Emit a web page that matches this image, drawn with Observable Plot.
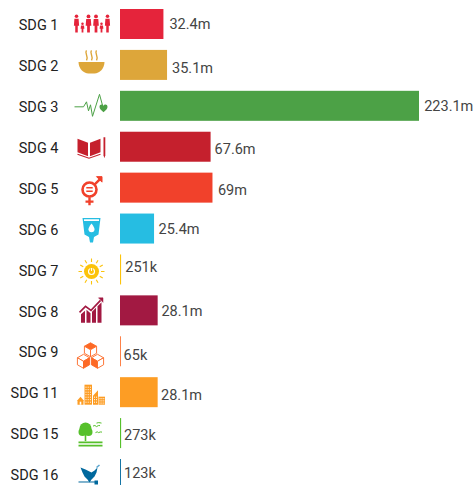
<!DOCTYPE html>
<html>
<head>
<meta charset="utf-8">
<script src="https://cdn.jsdelivr.net/npm/d3@7"></script>
<script src="https://cdn.jsdelivr.net/npm/@observablehq/plot@0.6"></script>
<style>
html,body{margin:0;padding:0;background:#fff;overflow:hidden}
svg{display:block}
</style>
</head>
<body>
<div id="chart"></div>
<script>
const categories = ["SDG 1","SDG 2","SDG 3","SDG 4","SDG 5","SDG 6","SDG 7","SDG 8","SDG 9","SDG 11","SDG 15","SDG 16"];
const millions = [32.4,35.1,223.1,67.6,69,25.4,0.251,28.1,0.065,28.1,0.273,0.123];
const valueLabels = ["32.4m","35.1m","223.1m","67.6m","69m","25.4m","251k","28.1m","65k","28.1m","273k","123k"];
const colors = ["#E5243B","#DDA63A","#4CA146","#C5202D","#F1412B","#26BDE2","#FCC30B","#A21942","#FD6925","#FD9D24","#56C02B","#00689D"];
// label nudges seen in the reference (pixels)
const labelDx = [5.5,4.5,4.7,3.5,5,4,4.4,3.3,3,2.9,3.2,3.4];
const labelDy = [0,3.4,0,2.5,2.5,0.5,-2.5,0.5,3.4,3,2,-1];

// pictograms, drawn in a 40x40 cell
const person = (x, top, w, c) => {
  const r = w * 0.42, b = 28;
  return `<circle cx="${x}" cy="${top + r}" r="${r}" fill="${c}"/><path d="M${x - w/2} ${top + 2*r + .6}H${x + w/2}L${x + w*.62} ${top + (b-top)*.62}H${x + w*.3}V${b}H${x - w*.3}V${top + (b-top)*.62}H${x - w*.62}Z" fill="${c}"/>`;
};
const rays = (cx, cy, r1, r2, n, c, sw) => d3.range(n).map(i => {
  const a = i * 2 * Math.PI / n;
  return `<line x1="${cx + r1*Math.cos(a)}" y1="${cy + r1*Math.sin(a)}" x2="${cx + r2*Math.cos(a)}" y2="${cy + r2*Math.sin(a)}" stroke="${c}" stroke-width="${sw}"/>`;
}).join("");
const cube = (cx, cy, s, c, filled) => {
  const h = s * 0.5;
  return `<path d="M${cx} ${cy - s}L${cx + s*.87} ${cy - h}L${cx} ${cy}L${cx - s*.87} ${cy - h}Z" fill="${filled === "top" ? c : "#fff"}" stroke="${c}" stroke-width=".9"/>` +
    `<path d="M${cx - s*.87} ${cy - h}L${cx} ${cy}V${cy + s}L${cx - s*.87} ${cy + h}Z" fill="${filled === "left" ? c : "#fff"}" stroke="${c}" stroke-width=".9"/>` +
    `<path d="M${cx + s*.87} ${cy - h}L${cx} ${cy}V${cy + s}L${cx + s*.87} ${cy + h}Z" fill="${filled === "right" ? c : "#fff"}" stroke="${c}" stroke-width=".9"/>`;
};
const windows = (x0, y0, nx, ny, dx, dy) => d3.range(nx).flatMap(i => d3.range(ny).map(j =>
  `<rect x="${x0 + i*dx}" y="${y0 + j*dy}" width="1" height="1" fill="#fff"/>`)).join("");
const iconBodies = [
  // SDG 1
  person(6,10,4.2,"#E5243B") + person(12,18,3,"#E5243B") + person(18,10,4.6,"#E5243B") + person(25.5,10,4.6,"#E5243B") + person(31,18,3,"#E5243B") + person(37,10,4.2,"#E5243B"),
  // SDG 2
  `<path d="M8 16.5H34C34 23 29 28 24 28H18C13 28 8 23 8 16.5Z" fill="#DDA63A"/>` +
  [16,21,26].map(x => `<path d="M${x} 5C${x-2.4} 8 ${x+2.4} 10 ${x} 15" fill="none" stroke="#DDA63A" stroke-width="1.4"/>`).join(""),
  // SDG 3
  `<path d="M4 20.5H13L16 15.5L18 24.5L20 18.5L22 30L29 8L32 19" fill="none" stroke="#4CA146" stroke-width="1"/>` +
  `<path d="M33 26C30 23.5 29 22 29 20.5C29 18 32 17.5 33 19.5C34 17.5 37 18 37 20.5C37 22 36 23.5 33 26Z" fill="#4CA146"/>`,
  // SDG 4
  `<path d="M7 11.5L17.5 15.5V29L7 25Z" fill="#C5202D"/><path d="M30 11.5L19.5 15.5V29L30 25Z" fill="#C5202D"/>` +
  `<path d="M7 27L18.5 31L30 27" fill="none" stroke="#C5202D" stroke-width="1"/><path d="M33 10H34.8V28L33.9 31L33 28Z" fill="#C5202D"/>`,
  // SDG 5
  `<circle cx="19" cy="21.4" r="7" fill="none" stroke="#F1412B" stroke-width="2.6"/><path d="M15.8 19.5H22.2M15.8 23H22.2" stroke="#F1412B" stroke-width="1.5"/>` +
  `<path d="M19 29V37M15 33.5H23M24 16.5L30 10.5" stroke="#F1412B" stroke-width="2.4" fill="none"/><path d="M26 8.5H31.5V14Z" fill="#F1412B" stroke="#F1412B"/>`,
  // SDG 6
  `<path d="M12 9H30L28 25.5L23.5 28L22.5 33.5H19.5L18.5 28L14 25.5Z" fill="#26BDE2"/><path d="M13.5 10.2H28.5V12H13.5Z" fill="#fff"/>` +
  `<path d="M21 14.5C18.6 17.8 18 19 18 20.3A3 3 0 0 0 24 20.3C24 19 23.4 17.8 21 14.5Z" fill="#fff"/>`,
  // SDG 7
  `<circle cx="21" cy="21.6" r="7.5" fill="#FCC30B"/>` + rays(21,21.6,9.5,13,12,"#FCC30B",1.1) +
  `<circle cx="21" cy="21.6" r="3" fill="none" stroke="#fff" stroke-width="1.1"/><path d="M21 17.5V21" stroke="#FCC30B" stroke-width="2.4"/><path d="M21 18V21" stroke="#fff" stroke-width="1"/>`,
  // SDG 8
  `<path d="M10.5 32V23.5L14.5 20V32ZM16 32V19L20 22.5V32ZM21.5 32V21L25.5 17V32ZM27 32V15.5L31 11.5V32Z" fill="#A21942"/>` +
  `<path d="M9 21.5L15 15.5L20.5 19.5L30 9.5" fill="none" stroke="#A21942" stroke-width="1.6"/><path d="M28 7H32.5V11.5Z" fill="#A21942" stroke="#A21942" stroke-width=".5"/>`,
  // SDG 9
  cube(20,18,7,"#FD6925","top") + cube(13,29.5,7,"#FD6925","right") + cube(27,29.5,7,"#FD6925","left"),
  // SDG 11
  `<path d="M7 32V27.5L10 24L13 27.5V32Z" fill="#FD9D24"/><rect x="14" y="12" width="7.5" height="20" fill="#FD9D24"/>` +
  `<path d="M22.5 32V23L27.5 17.5V32Z" fill="#FD9D24"/><rect x="28" y="24" width="6.5" height="8" fill="#FD9D24"/>` +
  windows(15,14,3,7,2.2,2.5) + windows(23.5,24,2,3,2,2.5) + windows(29,25.5,3,3,1.9,2.2) + `<rect x="9.2" y="29" width="1.6" height="3" fill="#fff"/>`,
  // SDG 15
  `<circle cx="15" cy="15" r="6" fill="#56C02B"/><circle cx="12" cy="18.5" r="4" fill="#56C02B"/><circle cx="18" cy="18.5" r="4" fill="#56C02B"/><rect x="14.2" y="20" width="1.6" height="7.5" fill="#56C02B"/>` +
  `<path d="M8 28H32V29.6H8ZM8 31.2H32V32.8H8Z" fill="#56C02B"/>` +
  `<path d="M22.5 12.5Q24.5 11 26 13Q28 11.5 29.5 12M26 9.5Q28 8.5 31 9.5M25 19Q27 17.5 28 19Q30 18 31.5 18.5" fill="none" stroke="#56C02B" stroke-width="1"/>`,
  // SDG 16
  `<path d="M10 13L15 15L19 17L21 18L24 16L27 13L26 18L24 22L21 25L19 28L17 25L14 22L12 18Z" fill="#00689D"/>` +
  `<path d="M26 13L29 10.5" stroke="#5aa5cf" stroke-width="1.6"/><path d="M8 27.5H27" stroke="#00689D" stroke-width="1"/><rect x="24" y="26" width="3.5" height="4" fill="#00689D"/>`
];
const iconUri = body => "data:image/svg+xml;utf8," + encodeURIComponent(
  `<svg xmlns="http://www.w3.org/2000/svg" viewBox="0 0 40 40" width="40" height="40">${body}</svg>`);

const rows = categories.map((sdg, i) => ({
  sdg, value: millions[i], label: valueLabels[i], color: colors[i],
  icon: iconUri(iconBodies[i]), dx: labelDx[i], dy: labelDy[i]
}));
const wide = rows.filter(d => d.value >= 1);
const thin = rows.filter(d => d.value < 1);

const chart = Plot.plot({
  width: 474,
  height: 485,
  marginTop: 0, marginBottom: 0, marginLeft: 0, marginRight: 0,
  style: {background: "#fff", fontFamily: "Roboto, sans-serif", overflow: "hidden"},
  x: {domain: [0, 223.1], range: [120, 419], axis: null},
  y: {domain: categories, type: "band", range: [3.55, 494.45], paddingInner: 0.2667, paddingOuter: 0.1333, round: false, label: null},
  marks: [
    Plot.axisY({tickSize: 0, tickPadding: 0, anchor: "left", dx: 58, dy: 1, fontSize: 14.5, color: "#222", label: null, textAnchor: "end"}),
    Plot.image(rows, {y: "sdg", src: "icon", frameAnchor: "left", dx: 90, width: 40, height: 40}),
    Plot.barX(wide, {x: "value", y: "sdg", fill: "color"}),
    Plot.barX(thin, {x: "value", y: "sdg", fill: "color", insetRight: -0.75}),
    ...rows.map(d => Plot.text([d], {
      x: "value", y: "sdg", text: "label", textAnchor: "start",
      dx: d.dx, dy: d.dy, fontSize: 14.5, fill: "#444"
    }))
  ]
});
document.getElementById("chart").append(chart);
</script>
</body>
</html>
